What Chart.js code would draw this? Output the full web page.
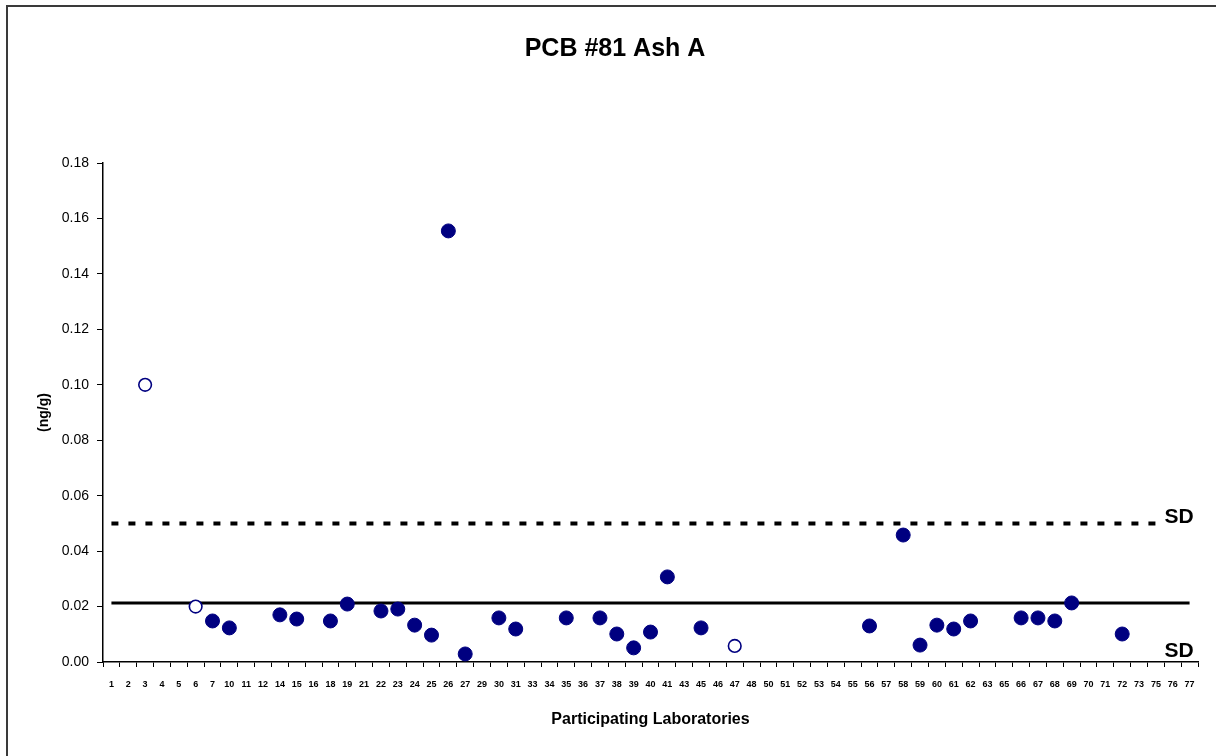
<!DOCTYPE html>
<html>
<head>
<meta charset="utf-8">
<script src="https://cdn.jsdelivr.net/npm/chart.js@4"></script>
<style>
  html, body { margin: 0; padding: 0; background: #fff; overflow: hidden; }
  #wrap { position: relative; width: 1216px; height: 756px; }
  #frame { position: absolute; left: 6px; top: 5px; width: 1240px; height: 790px;
           border: 2px solid #3a3a3a; pointer-events: none; }
  canvas { display: block; }
</style>
</head>
<body>
<div id="wrap">
  <canvas id="c" width="1216" height="756"></canvas>
  <div id="frame"></div>
</div>
<script>
// Laboratory codes shown along the x axis
const labs = [1,2,3,4,5,6,7,10,11,12,14,15,16,18,19,21,22,23,24,25,26,27,29,30,31,33,34,35,36,37,38,39,40,41,43,45,46,47,48,50,51,52,53,54,55,56,57,58,59,60,61,62,63,65,66,67,68,69,70,71,72,73,75,76,77];

// Reported results (ng/g)
const resultLabs   = [7, 10, 14, 15, 18, 19, 22, 23, 24, 25, 26, 27, 30, 31, 35, 37, 38, 39, 40, 41, 45, 56, 58, 59, 60, 61, 62, 66, 67, 68, 69, 72];
const resultValues = [0.0148, 0.0123, 0.0170, 0.0155, 0.0148, 0.0209, 0.0184, 0.0191, 0.0133, 0.0097, 0.1555, 0.0029, 0.0159, 0.0119, 0.0159, 0.0159, 0.0101, 0.0051, 0.0108, 0.0307, 0.0123, 0.0130, 0.0458, 0.0061, 0.0133, 0.0119, 0.0148, 0.0159, 0.0159, 0.0148, 0.0213, 0.0101];

// Results excluded from the consensus (open symbols)
const excludedLabs   = [3, 6, 47];
const excludedValues = [0.100, 0.0200, 0.0058];

// Consensus mean and upper SD limit
const consensusMean = 0.0213;
const upperLimit = 0.050;
const upperLimitLastLab = 75;

// Y axis tick values
const yTicks = [0, 0.02, 0.04, 0.06, 0.08, 0.10, 0.12, 0.14, 0.16, 0.18];

const labLabels = labs.map(String);
const pairs = (xs, ys) => xs.map((x, i) => ({ x: String(x), y: ys[i] }));
const lastIdx = labs.indexOf(upperLimitLastLab);

const NAVY = '#000080';
const FONT = "'Liberation Sans', Arial, Helvetica, sans-serif";

// Writes the "SD" captions at the right end of the plot
const sdLabels = {
  id: 'sdLabels',
  afterDatasetsDraw(chart) {
    const { ctx, scales: { y }, chartArea } = chart;
    ctx.save();
    ctx.font = `bold 21px ${FONT}`;
    ctx.fillStyle = '#000';
    ctx.textAlign = 'center';
    ctx.textBaseline = 'middle';
    const cx = chartArea.right - 19;
    ctx.fillText('SD', cx, y.getPixelForValue(upperLimit) - 6);
    ctx.fillText('SD', cx, chartArea.bottom - 11);
    ctx.restore();
  }
};

new Chart(document.getElementById('c'), {
  type: 'line',
  data: {
    labels: labLabels,
    datasets: [
      {
        label: 'Results',
        data: pairs(resultLabs, resultValues),
        showLine: false,
        pointRadius: 7,
        pointHoverRadius: 7,
        pointBackgroundColor: NAVY,
        pointBorderColor: NAVY,
        pointBorderWidth: 1,
        order: 0
      },
      {
        label: 'Excluded',
        data: pairs(excludedLabs, excludedValues),
        showLine: false,
        pointRadius: 6.3,
        pointHoverRadius: 6.3,
        pointBackgroundColor: '#fff',
        pointBorderColor: NAVY,
        pointBorderWidth: 1.6,
        order: 0
      },
      {
        label: 'Mean',
        data: labs.map(() => consensusMean),
        borderColor: '#000',
        borderWidth: 3,
        pointRadius: 0,
        fill: false,
        order: 1
      },
      {
        label: 'SD',
        data: labs.map((_, i) => (i <= lastIdx ? upperLimit : null)),
        borderColor: '#000',
        borderWidth: 4,
        borderDash: [7, 10],
        pointRadius: 0,
        fill: false,
        spanGaps: false,
        order: 1
      }
    ]
  },
  options: {
    responsive: false,
    animation: false,
    layout: { padding: { left: 32, right: 18, top: 34, bottom: 23 } },
    plugins: {
      legend: { display: false },
      tooltip: { enabled: false },
      title: {
        display: true,
        text: 'PCB #81 Ash A',
        color: '#000',
        font: { family: FONT, size: 25, weight: 'bold', lineHeight: 1.2 },
        padding: { top: 0, bottom: 99 }
      }
    },
    scales: {
      x: {
        type: 'category',
        offset: true,
        grid: { display: true, drawOnChartArea: false, offset: true, tickLength: 5, color: '#000', lineWidth: 1 },
        border: { display: true, color: '#000', width: 1.5 },
        ticks: {
          autoSkip: false, maxRotation: 0, minRotation: 0, padding: 12,
          color: '#000',
          font: { family: "'Liberation Sans Narrow', 'Arial Narrow', " + FONT, size: 9, weight: 'bold' }
        },
        title: {
          display: true, text: 'Participating Laboratories', color: '#000',
          font: { family: FONT, size: 16, weight: 'bold' }, padding: { top: 4, bottom: 4 }
        },
        afterFit(scale) { scale.height = 71; }
      },
      y: {
        min: 0, max: 0.18,
        afterBuildTicks(scale) { scale.ticks = yTicks.map(v => ({ value: v })); },
        grid: { display: true, drawOnChartArea: false, tickLength: 6, color: '#000', lineWidth: 1 },
        border: { display: true, color: '#000', width: 1.5 },
        ticks: {
          padding: 8, color: '#000',
          font: { family: FONT, size: 14 },
          callback: v => Number(v).toFixed(2)
        },
        title: {
          display: true, text: '(ng/g)', color: '#000',
          font: { family: FONT, size: 14, weight: 'bold' }, padding: { top: 4, bottom: 4 }
        },
        afterFit(scale) { scale.width = 71; }
      }
    }
  },
  plugins: [sdLabels]
});
</script>
</body>
</html>
